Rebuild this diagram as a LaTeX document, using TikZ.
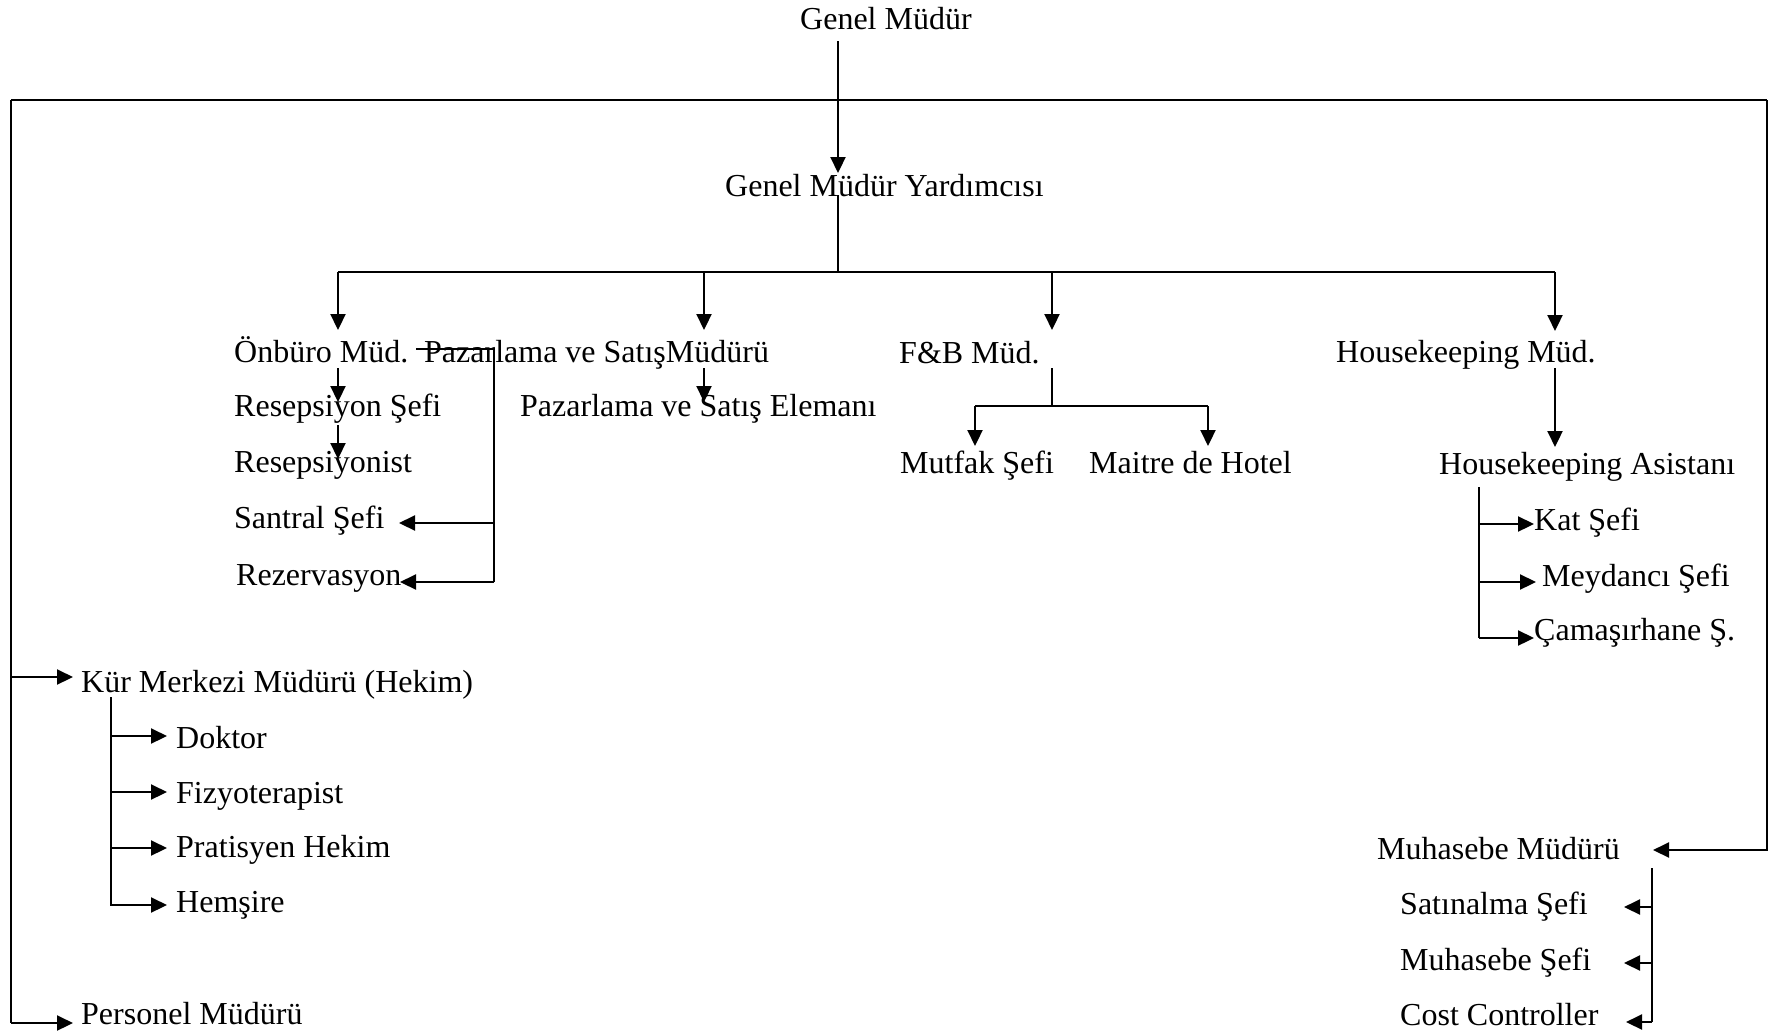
\documentclass[tikz,border=0pt]{standalone}
\usepackage{fontspec}
\setmainfont{Liberation Serif}
\usetikzlibrary{arrows.meta}
\begin{document}
\begin{tikzpicture}[x=1pt,y=-1pt,
  lbl/.style={anchor=base west,inner sep=0pt,font=\fontsize{32}{38}\selectfont},
  conn/.style={line width=2.2pt},
  arr/.style={line width=2.2pt,-{Triangle[length=16pt,width=15pt]}}]
\useasboundingbox (0,0) rectangle (1774,1031);
% nodes
\node[lbl] (gm) at (800,29) {Genel Müdür};
\node[lbl] (gmy) at (725,196) {Genel Müdür Yardımcısı};
\node[lbl] (onburo) at (234,362) {Önbüro Müd.};
\node[lbl] (pazar) at (424,362) {Pazarlama ve SatışMüdürü};
\node[lbl] (fb) at (899,363) {F\&B Müd.};
\node[lbl] (hk) at (1336,362) {Housekeeping Müd.};
\node[lbl] (res) at (234,416) {Resepsiyon Şefi};
\node[lbl] (resist) at (234,472) {Resepsiyonist};
\node[lbl] (santral) at (234,528) {Santral Şefi};
\node[lbl] (rez) at (236,585) {Rezervasyon};
\node[lbl] (pse) at (520,416) {Pazarlama ve Satış Elemanı};
\node[lbl] (mutfak) at (900,473) {Mutfak Şefi};
\node[lbl] (maitre) at (1089,473) {Maitre de Hotel};
\node[lbl] (hka) at (1439,474) {Housekeeping Asistanı};
\node[lbl] (kat) at (1534,530) {Kat Şefi};
\node[lbl] (meyd) at (1542,586) {Meydancı Şefi};
\node[lbl] (cam) at (1534,640) {Çamaşırhane Ş.};
\node[lbl] (kur) at (81,692) {Kür Merkezi Müdürü (Hekim)};
\node[lbl] (doktor) at (176,748) {Doktor};
\node[lbl] (fizyo) at (176,803) {Fizyoterapist};
\node[lbl] (prat) at (176,857) {Pratisyen Hekim};
\node[lbl] (hem) at (176,912) {Hemşire};
\node[lbl] (pers) at (81,1024) {Personel Müdürü};
\node[lbl] (muh) at (1377,859) {Muhasebe Müdürü};
\node[lbl] (sat) at (1400,914) {Satınalma Şefi};
\node[lbl] (muhs) at (1400,970) {Muhasebe Şefi};
\node[lbl] (cost) at (1400,1025) {Cost Controller};
% coordinates
\coordinate (gmOut) at (838,41);
\coordinate (gmyIn) at (838,173);
\coordinate (gmyOut) at (838,195);
\coordinate (bar) at (838,272);
\coordinate (tl) at (11,100);
\coordinate (tr) at (1767,100);
\coordinate (bl) at (11,1023);
% top frame
\draw[arr] (gmOut) -- (gmyIn);
\draw[conn] (tl) -- (tr);
\draw[conn] (tl) -- (bl);
\draw[arr] (bl) -- (73,1023);
\draw[arr] (11,677) -- (73,677);
\draw[arr] (tr) -- (1767,850) -- (1653,850);
% main bar
\draw[conn] (gmyOut) -- (bar);
\draw[conn] (338,272) -- (1555,272);
\draw[arr] (338,272) -- (338,330);
\draw[arr] (704,272) -- (704,330);
\draw[arr] (1052,272) -- (1052,330);
\draw[arr] (1555,272) -- (1555,331);
% Onburo
\draw[arr] (338,368) -- (338,402);
\draw[arr] (338,425) -- (338,459);
\draw[conn] (416,349) -- (494,349) -- (494,582);
\draw[arr] (494,523) -- (399,523);
\draw[arr] (494,582) -- (400,582);
% Pazarlama
\draw[arr] (704,368) -- (704,402);
% F&B
\draw[conn] (1052,368) -- (1052,406);
\draw[conn] (975,406) -- (1208,406);
\draw[arr] (975,406) -- (975,446);
\draw[arr] (1208,406) -- (1208,446);
% Housekeeping
\draw[arr] (1555,368) -- (1555,447);
\draw[conn] (1479,487) -- (1479,638);
\draw[arr] (1479,524) -- (1534,524);
\draw[arr] (1479,582) -- (1536,582);
\draw[arr] (1479,638) -- (1534,638);
% Kur merkezi
\draw[conn] (111,697) -- (111,906);
\draw[arr] (111,736) -- (167,736);
\draw[arr] (111,792) -- (167,792);
\draw[arr] (111,848) -- (167,848);
\draw[arr] (111,905) -- (167,905);
% Muhasebe
\draw[conn] (1652,868) -- (1652,1022);
\draw[arr] (1652,907) -- (1624,907);
\draw[arr] (1652,963) -- (1624,963);
\draw[arr] (1652,1022) -- (1626,1022);
\end{tikzpicture}
\end{document}
